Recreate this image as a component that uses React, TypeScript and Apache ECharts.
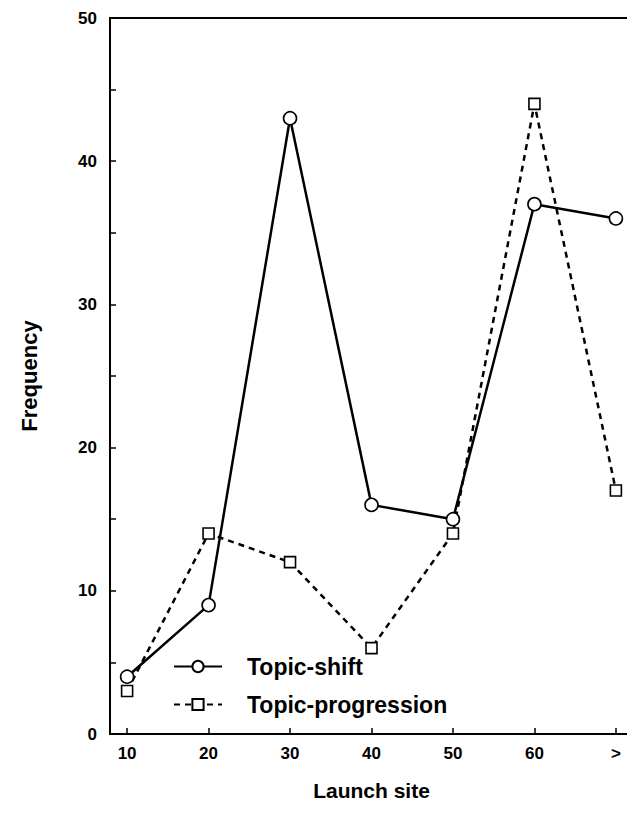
import React, { useEffect, useRef } from "react";
import * as echarts from "echarts";

const launchSites = [10, 20, 30, 40, 50, 60, 70];
const siteLabels = ["10", "20", "30", "40", "50", "60", ">"];
const topicShift = [4, 9, 43, 16, 15, 37, 36];
const topicProgression = [3, 14, 12, 6, 14, 44, 17];
const yTickLabels = [0, 10, 20, 30, 40, 50];

const FONT = "'Liberation Sans', Arial, Helvetica, sans-serif";

export default function App() {
  const ref = useRef<HTMLDivElement>(null);
  useEffect(() => {
    if (!ref.current) return;
    const chart = echarts.init(ref.current, undefined, { renderer: "svg" });
    const pts = (vals: number[]) => launchSites.map((x, i) => [x, vals[i]]);
    chart.setOption({
      animation: false,
      backgroundColor: "#fff",
      textStyle: { fontFamily: FONT },
      grid: {
        left: 110,
        right: 2,
        top: 18,
        bottom: 92,
        show: true,
        borderColor: "#000",
        borderWidth: 2,
        backgroundColor: "transparent",
      },
      legend: {
        orient: "vertical",
        left: 168,
        top: 650,
        itemWidth: 48,
        itemHeight: 14,
        itemGap: 15,
        data: ["Topic-shift", "Topic-progression"],
        textStyle: {
          fontFamily: FONT,
          fontSize: 23,
          fontWeight: "bold",
          color: "#000",
          padding: [0, 0, 0, 20],
        },
      },
      xAxis: {
        type: "value",
        min: 7.9,
        max: 72.1,
        name: "Launch site",
        nameLocation: "middle",
        nameGap: 46,
        nameTextStyle: { fontFamily: FONT, fontSize: 21, fontWeight: "bold", color: "#000" },
        axisLine: { show: true, lineStyle: { color: "#000", width: 2 } },
        axisTick: {
          show: true,
          inside: true,
          length: 6,
          customValues: launchSites,
          lineStyle: { color: "#000", width: 1.5 },
        },
        axisLabel: {
          customValues: launchSites,
          formatter: (v: number) => siteLabels[launchSites.indexOf(v)] ?? "",
          fontFamily: FONT,
          fontSize: 17,
          fontWeight: "bold",
          color: "#000",
          margin: 11,
        },
        splitLine: { show: false },
      },
      yAxis: [
        {
          type: "value",
          min: 0,
          max: 50,
          interval: 5,
          name: "Frequency",
          nameLocation: "middle",
          nameGap: 70,
          nameTextStyle: { fontFamily: FONT, fontSize: 22, fontWeight: "bold", color: "#000" },
          axisLine: { show: true, lineStyle: { color: "#000", width: 2 } },
          axisTick: { show: true, inside: true, length: 6, lineStyle: { color: "#000", width: 1.5 } },
          axisLabel: {
            customValues: yTickLabels,
            fontFamily: FONT,
            fontSize: 17,
            fontWeight: "bold",
            color: "#000",
            margin: 13,
          },
          splitLine: { show: false },
        },
        {
          type: "value",
          position: "right",
          min: 0,
          max: 50,
          interval: 5,
          axisLine: { show: true, lineStyle: { color: "#000", width: 2 } },
          axisTick: { show: true, inside: true, length: 5, lineStyle: { color: "#000", width: 1.2 } },
          axisLabel: { show: false },
          splitLine: { show: false },
        },
      ],
      series: [
        {
          name: "Topic-shift",
          type: "line",
          data: pts(topicShift),
          symbol: "circle",
          symbolSize: 13,
          lineStyle: { color: "#000", width: 2.5, type: "solid" },
          itemStyle: { color: "#fff", borderColor: "#000", borderWidth: 1.6 },
          z: 3,
        },
        {
          name: "Topic-progression",
          type: "line",
          data: pts(topicProgression),
          symbol: "rect",
          symbolSize: 11,
          lineStyle: { color: "#000", width: 2.5, type: [6, 5] },
          itemStyle: { color: "#fff", borderColor: "#000", borderWidth: 1.6 },
          z: 2,
        },
      ],
    });
    return () => chart.dispose();
  }, []);
  return <div ref={ref} style={{ width: 635, height: 826, marginLeft: -8, marginTop: -8 }} />;
}
